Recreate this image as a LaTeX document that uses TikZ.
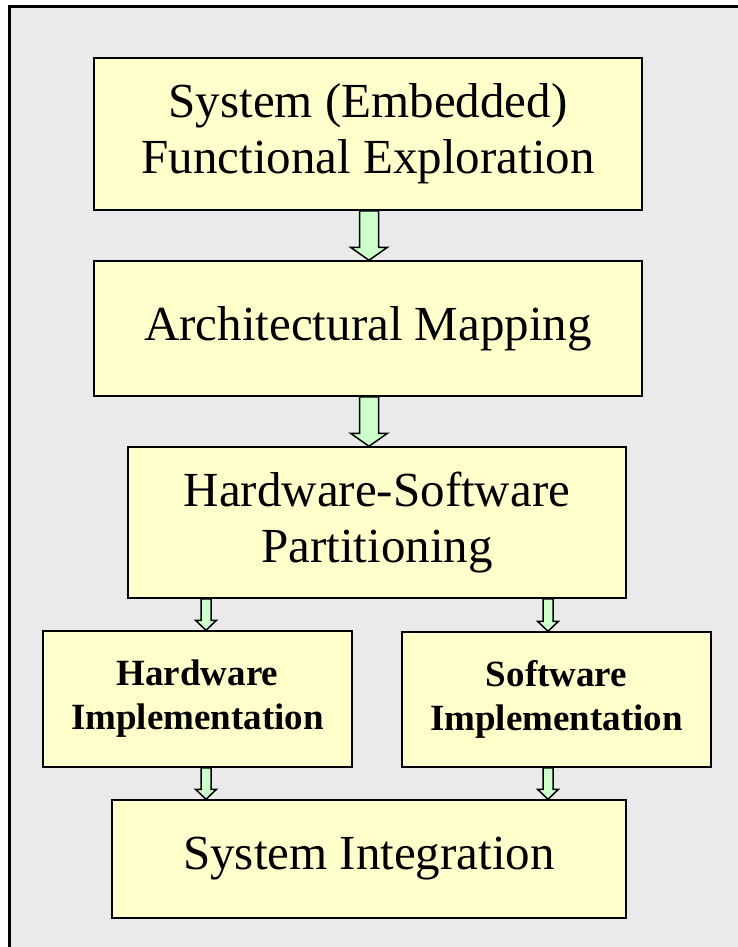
\documentclass[tikz,border=0pt]{standalone}
\usepackage{fontspec}
\setmainfont{Liberation Serif}
\usetikzlibrary{calc}
\definecolor{bgray}{HTML}{EAEAEA}
\definecolor{byellow}{HTML}{FFFFCC}
\definecolor{bgreen}{HTML}{CCFFCC}
\tikzset{
  stagebox/.style={draw=black, line width=1.5pt, fill=byellow, rectangle, align=center, inner sep=0pt,
    font=\fontsize{49}{56}\selectfont},
  implbox/.style={stagebox, font=\fontsize{37}{44}\selectfont\bfseries},
  arrowsty/.style={draw=black, line width=1.5pt, fill=bgreen, line join=miter},
}
\newcommand\blockarrow[5]{%
  \draw[arrowsty] let \p1=#1, \p2=#2 in
    (\x1-#3,\y1) -- (\x1+#3,\y1) -- (\x1+#3,\y2+#5) -- (\x1+#4,\y2+#5) -- (\x1,\y2)
    -- (\x1-#4,\y2+#5) -- (\x1-#3,\y2+#5) -- cycle;}
\begin{document}
\begin{tikzpicture}[x=1pt,y=-1pt]
\useasboundingbox (0,0) rectangle (738,947);
\begin{scope}
\clip (0,0) rectangle (738,947);
\draw[line width=3pt, fill=bgray] (9,7) rectangle (760,970);
\end{scope}
\node[stagebox, minimum width=548pt, minimum height=152pt] (b1) at (368,134) {System (Embedded)\\Functional Exploration};
\node[stagebox, minimum width=548pt, minimum height=135pt] (b2) at (368,328.5) {Architectural Mapping};
\node[stagebox, minimum width=498pt, minimum height=151pt] (b3) at (377,522.5) {Hardware-Software\\Partitioning};
\node[implbox, minimum width=309pt, minimum height=136pt] (b4) at (197.5,699) {Hardware\\Implementation};
\node[implbox, minimum width=309pt, minimum height=135pt] (b5) at (556.5,699.5) {Software\\Implementation};
\node[stagebox, minimum width=514pt, minimum height=118pt] (b6) at (369,859) {System Integration};
% big arrows
\blockarrow{([xshift=1pt]b1.south)}{([xshift=1pt]b2.north)}{9.5pt}{18.5pt}{13pt}
\blockarrow{([xshift=1pt]b2.south)}{([xshift=1pt]b3.north)}{9.5pt}{18.5pt}{13pt}
% small arrows
\blockarrow{([xshift=8.5pt]b4.north|-b3.south)}{([xshift=8.5pt]b4.north)}{5pt}{10.5pt}{10pt}
\blockarrow{([xshift=-8.5pt]b5.north|-b3.south)}{([xshift=-8.5pt]b5.north)}{5pt}{10.5pt}{10pt}
\blockarrow{([xshift=8.5pt]b4.south)}{([xshift=8.5pt]b4.south|-b6.north)}{5pt}{10.5pt}{10pt}
\blockarrow{([xshift=-8.5pt]b5.south)}{([xshift=-8.5pt]b5.south|-b6.north)}{5pt}{10.5pt}{10pt}
\end{tikzpicture}
\end{document}
